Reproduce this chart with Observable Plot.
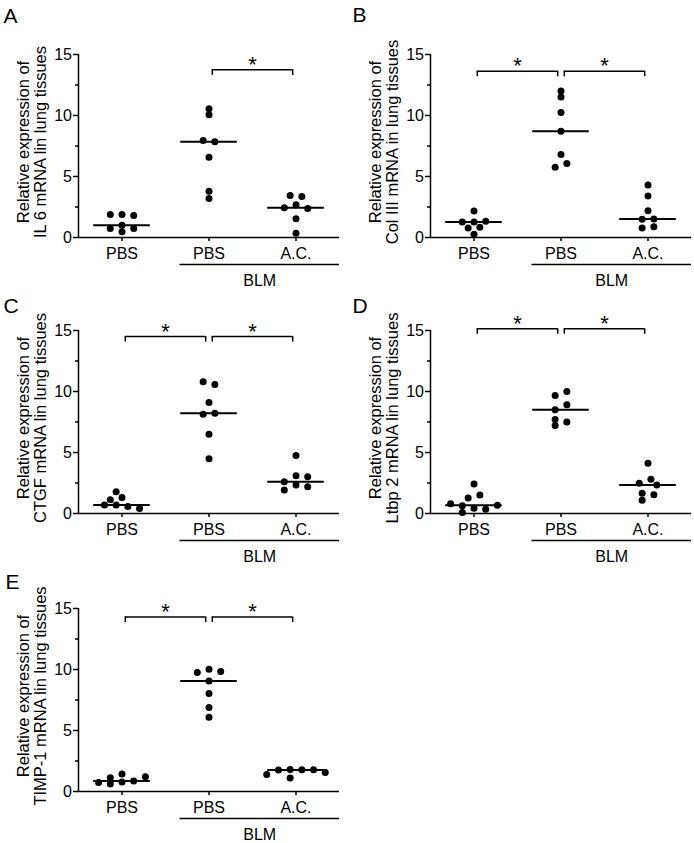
<!DOCTYPE html>
<html>
<head>
<meta charset="utf-8">
<script src="https://cdn.jsdelivr.net/npm/d3@7"></script>
<script src="https://cdn.jsdelivr.net/npm/@observablehq/plot@0.6"></script>
<style>
  html, body { margin: 0; padding: 0; background: #fff; }
  #fig { position: relative; width: 694px; height: 843px; overflow: hidden; background: #fff;
         font-family: "Liberation Sans", Arial, sans-serif; }
  #fig .panel { position: absolute; }
  #fig svg { background: transparent !important; overflow: visible; }
  #fig svg g[aria-label^="y-axis"] path, #fig svg g[aria-label^="y-axis"] line,
  #fig svg g[aria-label^="x-axis"] path, #fig svg g[aria-label^="x-axis"] line { stroke-width: 1.5px; }
</style>
</head>
<body>
<div id="fig"></div>
<script>
// ---------------- data ----------------
const categories = ["PBS", "BLM PBS", "BLM A.C."];
const tickLabels = ["PBS", "PBS", "A.C."];
const groupLabel = "BLM";
const panelLetters = ["A", "B", "C", "D", "E"];
const yTitleTop = "Relative expression of";
const yTitles = [
  "IL 6 mRNA lin lung tissues",
  "Col III mRNA in lung tissues",
  "CTGF mRNA lin lung tissues",
  "Ltbp 2 mRNA lin lung tissues",
  "TIMP-1 mRNA lin lung tissues"
];
const yTicks = [0, 5, 10, 15];
const yMinorTicks = [2.5, 7.5, 12.5];
const sigLabel = "*";

// A: IL 6
const il6PBS    = [1.89, 1.80, 1.89, 1.01, 0.74, 0.74, 0.47];
const il6BlmPBS = [10.55, 10.06, 7.95, 7.84, 6.58, 3.80, 3.20];
const il6BlmAC  = [3.44, 3.36, 2.68, 2.38, 2.43, 1.53, 0.35];
// B: Col III
const col3PBS    = [2.17, 1.27, 1.33, 1.27, 0.84, 0.78, 0.26];
const col3BlmPBS = [12.01, 11.52, 10.24, 8.71, 6.80, 5.75, 6.06];
const col3BlmAC  = [4.30, 3.40, 2.20, 1.49, 1.52, 0.78, 0.89];
// C: CTGF
const ctgfPBS    = [1.78, 1.31, 1.12, 0.69, 0.57, 0.69, 0.41];
const ctgfBlmPBS = [10.79, 10.57, 9.09, 8.13, 8.21, 6.49, 4.49];
const ctgfBlmAC  = [4.76, 3.10, 3.01, 2.33, 2.60, 2.19, 1.92];
// D: Ltbp 2
const ltbp2PBS    = [2.41, 1.28, 1.51, 0.44, 0.35, 0.63, 0.68, 0.79, 0.08];
const ltbp2BlmPBS = [9.68, 10.01, 8.50, 8.91, 7.70, 7.51, 7.21];
const ltbp2BlmAC  = [4.12, 2.80, 2.33, 2.47, 1.67, 1.53, 1.09];
// E: TIMP-1
const timp1PBS    = [1.43, 0.77, 0.86, 1.13, 1.21, 0.74, 0.61];
const timp1BlmPBS = [10.03, 9.84, 9.76, 9.05, 8.03, 6.88, 6.09];
const timp1BlmAC  = [1.81, 1.78, 1.76, 1.78, 1.40, 1.56, 1.10];

// significance brackets: [from category, to category, bracket height]
const il6Sig   = [[2, 3, 13.74]];
const col3Sig  = [[1, 2, 13.63], [2, 3, 13.63]];
const ctgfSig  = [[1, 2, 14.5], [2, 3, 14.5]];
const ltbp2Sig = [[1, 2, 15.14], [2, 3, 15.14]];
const timp1Sig = [[1, 2, 14.3], [2, 3, 14.3]];

// ---------------- layout / style ----------------
const panels = [
  {letter: panelLetters[0], title: yTitles[0], groups: [il6PBS, il6BlmPBS, il6BlmAC], sig: il6Sig},
  {letter: panelLetters[1], title: yTitles[1], groups: [col3PBS, col3BlmPBS, col3BlmAC], sig: col3Sig},
  {letter: panelLetters[2], title: yTitles[2], groups: [ctgfPBS, ctgfBlmPBS, ctgfBlmAC], sig: ctgfSig},
  {letter: panelLetters[3], title: yTitles[3], groups: [ltbp2PBS, ltbp2BlmPBS, ltbp2BlmAC], sig: ltbp2Sig},
  {letter: panelLetters[4], title: yTitles[4], groups: [timp1PBS, timp1BlmPBS, timp1BlmAC], sig: timp1Sig}
];
const frames = [
  {left: 0,   top: 0,   ml: 78, mr: 8, ldx: -75, ldy: -32},
  {left: 347, top: 0,   ml: 83, mr: 3, ldx: -78, ldy: -33},
  {left: 0,   top: 276, ml: 78, mr: 8, ldx: -75, ldy: -18},
  {left: 347, top: 276, ml: 83, mr: 3, ldx: -78, ldy: -18},
  {left: 0,   top: 554, ml: 78, mr: 8, ldx: -73, ldy: -20}
];
const W = 347, MT = 54, INNER_H = 183, MB = 52;
const INNER_W = 261;
const xDomain = [0.5, 3.5], yDomain = [0, 15];
const COL = 11.7;   // px between dot columns
const SY = 5.8;     // px vertical separation that avoids overlap
const MED_HALF = 28.3;
const BR_TICK = 5.5;
const FONT = "Liberation Sans, Arial, sans-serif";
const FS = 16;

// Prism-like scatter: greedy placement on a half-column grid, then center each cluster
function scatterLayout(values, pxPerY) {
  const cands = [0];
  for (let k = 1; k <= 16; k++) cands.push(k * 0.5, -k * 0.5);
  const placed = [];
  for (const v of values) {
    const y = v * pxPerY;
    let off = 0;
    for (const c of cands) {
      const ok = placed.every(p => {
        const dx = p.off - c, dy = (p.y - y) / SY;
        return dx * dx + dy * dy >= 1;
      });
      if (ok) { off = c; break; }
    }
    placed.push({v, y, off});
  }
  const sorted = placed.slice().sort((a, b) => b.y - a.y);
  const clusters = [];
  let cur = [];
  for (const p of sorted) {
    if (cur.length && cur[cur.length - 1].y - p.y >= SY) { clusters.push(cur); cur = []; }
    cur.push(p);
  }
  if (cur.length) clusters.push(cur);
  for (const cl of clusters) {
    const sh = (d3.min(cl, p => p.off) + d3.max(cl, p => p.off)) / 2;
    cl.forEach(p => p.off -= sh);
  }
  return placed;
}

const fig = document.getElementById("fig");
panels.forEach((p, i) => {
  const F = frames[i];
  const pxPerY = INNER_H / (yDomain[1] - yDomain[0]);
  const pxPerX = INNER_W / (xDomain[1] - xDomain[0]);
  const points = [];
  p.groups.forEach((vals, gi) => {
    scatterLayout(vals, pxPerY).forEach(d =>
      points.push({x: gi + 1 + d.off * COL / pxPerX, v: d.v, g: categories[gi]}));
  });
  const meds = p.groups.map((vals, gi) => ({c: gi + 1, m: d3.median(vals)}));
  const sig = p.sig.map(([a, b, h]) => ({a, b, h, lo: h - BR_TICK / pxPerY}));
  const blmX1 = 2 - 29 / pxPerX;
  const blmXc = (blmX1 + xDomain[1]) / 2;

  const chart = Plot.plot({
    width: W,
    height: MT + INNER_H + MB,
    marginLeft: F.ml, marginRight: F.mr, marginTop: MT, marginBottom: MB,
    style: {fontFamily: FONT, fontSize: FS + "px", color: "black", background: "transparent", overflow: "visible"},
    x: {domain: xDomain, ticks: [1, 2, 3], tickFormat: d => tickLabels[d - 1], tickSize: 4, tickPadding: 6, label: null},
    y: {domain: yDomain, ticks: yTicks, tickSize: 5, tickPadding: 1.5, label: null},
    marks: [
      // axis lines and minor ticks
      Plot.ruleX([xDomain[0]], {x: d => d, y1: () => yDomain[0], y2: () => yDomain[1], strokeWidth: 1.5}),
      Plot.ruleY([yDomain[0]], {y: d => d, x1: () => xDomain[0], x2: () => xDomain[1], strokeWidth: 1.5}),
      Plot.ruleY(yMinorTicks, {y: d => d, x1: () => xDomain[0], x2: () => xDomain[0], insetLeft: -3, strokeWidth: 1.5}),
      // median lines
      Plot.ruleY(meds, {y: "m", x1: "c", x2: "c", insetLeft: -MED_HALF, insetRight: -MED_HALF, strokeWidth: 2}),
      // dots
      Plot.dot(points, {x: "x", y: "v", r: 3.5, fill: "black"}),
      // significance brackets
      Plot.ruleY(sig, {y: "h", x1: "a", x2: "b", insetLeft: 3.3, insetRight: 3.3, strokeWidth: 1.5}),
      Plot.ruleX(sig, {x: "a", y1: "lo", y2: "h", dx: 3.3, strokeWidth: 1.5}),
      Plot.ruleX(sig, {x: "b", y1: "lo", y2: "h", dx: -3.3, strokeWidth: 1.5}),
      Plot.text(sig, {x: d => (d.a + d.b) / 2, y: "h", text: () => sigLabel, fontSize: 22, lineAnchor: "bottom", dy: 2}),
      // BLM group line and label
      Plot.ruleY([yDomain[0]], {y: d => d, x1: () => 2, x2: () => xDomain[1], insetLeft: -29, dy: 27, strokeWidth: 1.5}),
      Plot.text([groupLabel], {x: () => blmXc, y: () => yDomain[0], text: d => d, dy: 43, fontSize: FS, lineAnchor: "middle"}),
      // y title
      Plot.text([yTitleTop + "\n" + p.title], {frameAnchor: "left", text: d => d, rotate: -90, dx: -46, dy: -4,
        fontSize: 16.5, lineHeight: 1.03, textAnchor: "middle", lineAnchor: "middle"}),
      // panel letter
      Plot.text([p.letter], {frameAnchor: "top-left", text: d => d, dx: F.ldx, dy: F.ldy, fontSize: 21,
        textAnchor: "start", lineAnchor: "bottom"})
    ]
  });
  const div = document.createElement("div");
  div.className = "panel";
  div.style.left = F.left + "px";
  div.style.top = F.top + "px";
  div.appendChild(chart);
  fig.appendChild(div);
});
</script>
</body>
</html>
